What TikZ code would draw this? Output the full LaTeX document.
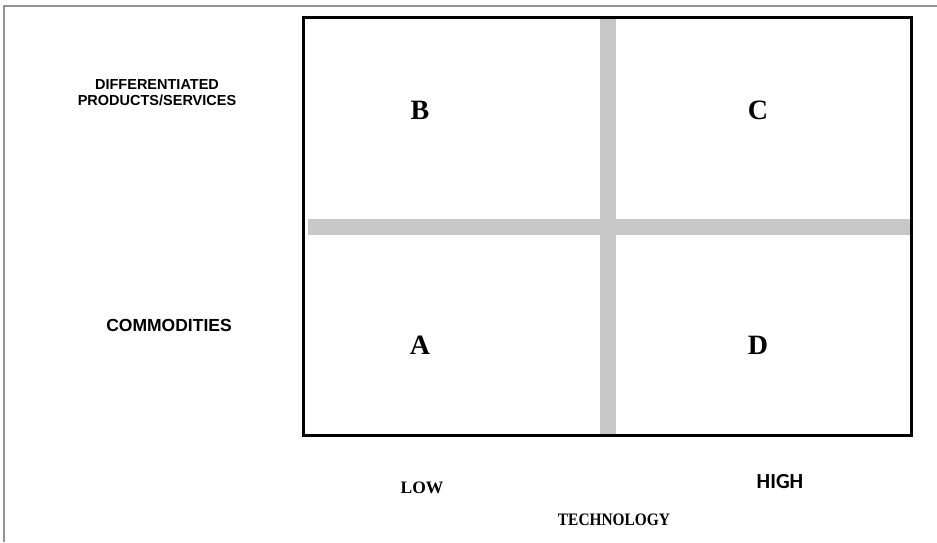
\documentclass[tikz,border=0pt]{standalone}
\usepackage{fontspec}
\setmainfont{Liberation Serif}
\newfontfamily\arialf{Liberation Sans}
\newfontfamily\calf{Carlito}
\begin{document}
\begin{tikzpicture}[x=1pt,y=-1pt,
  framecol/.style={draw=black!42,line width=2pt},
  bar/.style={draw=black!22,line width=16pt},
  quad/.style={font=\fontsize{28}{28}\selectfont\bfseries},
  ylab/.style={font=\arialf\bfseries\fontsize{14.5}{16}\selectfont,align=center},
  xlab/.style={font=\fontsize{17.5}{17.5}\selectfont\bfseries}]
\useasboundingbox (0,0) rectangle (937,542);
\fill[white] (0,0) rectangle (937,542);
\draw[framecol] (4,542) -- (4,6) -- (937,6);
% quadrant bars
\coordinate (vt) at (608,18);
\coordinate (vb) at (608,434);
\coordinate (hl) at (308,227);
\coordinate (hr) at (910,227);
\draw[bar] (vt) -- (vb);
\draw[bar] (hl) -- (hr);
\draw[line width=3pt] (303,17) rectangle (911,435);
\node[quad] (B) at (420,110) {B};
\node[quad] (C) at (758,110) {C};
\node[quad] (A) at (420,345) {A};
\node[quad] (D) at (758,345) {D};
\node[ylab] (diff) at (157,93) {DIFFERENTIATED\\PRODUCTS/SERVICES};
\node[ylab,font=\arialf\bfseries\fontsize{17.5}{18}\selectfont] (comm) at (169,325) {COMMODITIES};
\node[xlab] (low) at (422,488) {LOW};
\node[font=\calf\bfseries\fontsize{21.5}{22}\selectfont] (high) at (780,482) {HIGH};
\node[xlab] (tech) at (614,520) {\scalebox{0.88}[1]{TECHNOLOGY}};
\end{tikzpicture}
\end{document}
